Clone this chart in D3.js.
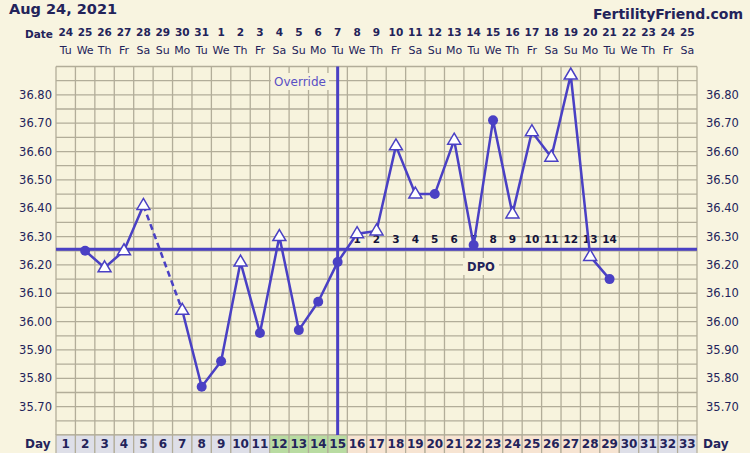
<!DOCTYPE html>
<html>
<head>
<meta charset="utf-8">
<script src="https://cdn.jsdelivr.net/npm/d3@7"></script>
<style>
  body { margin: 0; background: #f8f4e0; }
  svg { display: block; font-family: "DejaVu Sans", Verdana, sans-serif; }
</style>
</head>
<body>
<div id="main"></div>
<script>
// DATA
const days = d3.range(1, 34)
const dates = [24,25,26,27,28,29,30,31,1,2,3,4,5,6,7,8,9,10,11,12,13,14,15,16,17,18,19,20,21,22,23,24,25]
const weekdays = ["Tu","We","Th","Fr","Sa","Su","Mo"]
// temps per cycle day, null = no reading
const temps = [null,36.25,36.19,36.25,36.41,null,36.04,35.77,35.86,36.21,35.96,36.30,35.97,36.07,36.21,
               36.31,36.32,36.62,36.45,36.45,36.64,36.27,36.71,36.38,36.67,36.58,36.87,36.23,36.15]
// 't' = open triangle, 'c' = filled circle
const markers = [null,'c','t','t','t',null,'t','c','c','t','c','t','c','c','c',
                 't','t','t','t','c','t','c','c','t','t','t','t','t','c']
const yTicks = [35.70,35.80,35.90,36.00,36.10,36.20,36.30,36.40,36.50,36.60,36.70,36.80]
const coverline = 36.255
const ovulationDay = 15
const dpoLabels = d3.range(1, 15)

// COLORS
const navy = '#23235a'
const blue = '#4a40c4'
const gridCol = '#b2ad99'
const bg = '#f8f4e0'

let width = 750
let height = 453

let x = d3.scaleLinear().domain([0.5, 33.5]).range([56, 697])
let y = d3.scaleLinear().domain([35.60, 36.90]).range([435, 66.5])
let colW = x(2) - x(1)

let svg = d3.select("#main").append("svg")
    .attr("width", width)
    .attr("height", height)

svg.append("rect").attr("width", width).attr("height", height).attr("fill", bg)

// header
svg.append("text").attr("x", 9).attr("y", 14)
    .attr("font-size", 14.5).attr("font-weight", "bold").attr("fill", navy)
    .text("Aug 24, 2021")
svg.append("text").attr("x", 743).attr("y", 19).attr("text-anchor", "end")
    .attr("font-size", 14).attr("font-weight", "bold").attr("fill", navy)
    .text("FertilityFriend.com")
svg.append("text").attr("x", 25).attr("y", 38)
    .attr("font-size", 10.5).attr("font-weight", "bold").attr("fill", navy)
    .text("Date")

svg.selectAll("text.date").data(days).enter().append("text")
    .attr("class", "date")
    .attr("x", d => x(d)).attr("y", 36)
    .attr("text-anchor", "middle").attr("font-size", 10.5).attr("font-weight", "bold").attr("fill", navy)
    .text((d, i) => dates[i])
svg.selectAll("text.wd").data(days).enter().append("text")
    .attr("class", "wd")
    .attr("x", d => x(d)).attr("y", 54)
    .attr("text-anchor", "middle").attr("font-size", 11).attr("fill", navy)
    .text((d, i) => weekdays[i % 7])

// grid
let plot = svg.append("g")
plot.append("rect")
    .attr("x", x(0.5)).attr("y", y(36.90))
    .attr("width", x(33.5) - x(0.5)).attr("height", y(35.60) - y(36.90))
    .attr("fill", "#f7f3dd")
plot.selectAll("line.hg").data(d3.range(0, 27).map(i => 35.60 + i * 0.05)).enter().append("line")
    .attr("class", "hg")
    .attr("x1", x(0.5)).attr("x2", x(33.5))
    .attr("y1", d => y(d)).attr("y2", d => y(d))
    .attr("stroke", gridCol).attr("stroke-width", 1.3)
plot.selectAll("line.vg").data(d3.range(0, 34)).enter().append("line")
    .attr("class", "vg")
    .attr("x1", d => x(d + 0.5)).attr("x2", d => x(d + 0.5))
    .attr("y1", y(36.90)).attr("y2", y(35.60))
    .attr("stroke", gridCol).attr("stroke-width", 1.3)

// y axis labels both sides
svg.selectAll("text.yl").data(yTicks).enter().append("text")
    .attr("class", "yl")
    .attr("x", 52).attr("y", d => y(d) + 4)
    .attr("text-anchor", "end").attr("font-size", 11.5).attr("fill", navy)
    .text(d => d.toFixed(2))
svg.selectAll("text.yr").data(yTicks).enter().append("text")
    .attr("class", "yr")
    .attr("x", 706).attr("y", d => y(d) + 4)
    .attr("font-size", 11.5).attr("fill", navy)
    .text(d => d.toFixed(2))

// day row
function dayFill(d) {
    if (d >= 12 && d <= 15) return '#b9dca2'
    if (d >= 16 && d <= 29) return '#f7e4d2'
    return '#dedfe8'
}
svg.selectAll("rect.day").data(days).enter().append("rect")
    .attr("class", "day")
    .attr("x", d => x(d - 0.5)).attr("y", 435)
    .attr("width", colW).attr("height", 20)
    .attr("fill", dayFill).attr("stroke", gridCol).attr("stroke-width", 1.2)
svg.selectAll("text.dayn").data(days).enter().append("text")
    .attr("class", "dayn")
    .attr("x", d => x(d)).attr("y", 448)
    .attr("text-anchor", "middle").attr("font-size", 12).attr("font-weight", "bold").attr("fill", navy)
    .text(d => d)
svg.append("text").attr("x", 25).attr("y", 448)
    .attr("font-size", 12).attr("font-weight", "bold").attr("fill", navy).text("Day")
svg.append("text").attr("x", 703).attr("y", 448)
    .attr("font-size", 12).attr("font-weight", "bold").attr("fill", navy).text("Day")

// override label + ovulation line
let ov = svg.append("g")
ov.append("rect").attr("x", 271).attr("y", 73).attr("width", 58).attr("height", 17).attr("fill", "#f7f3dd")
ov.append("text").attr("x", 300).attr("y", 86).attr("text-anchor", "middle")
    .attr("font-size", 12).attr("fill", "#5a50c4").text("Override")
svg.append("line")
    .attr("x1", x(ovulationDay)).attr("x2", x(ovulationDay))
    .attr("y1", y(36.90)).attr("y2", y(35.60))
    .attr("stroke", blue).attr("stroke-width", 3)

// coverline
svg.append("line")
    .attr("x1", x(0.5)).attr("x2", x(33.5))
    .attr("y1", y(coverline)).attr("y2", y(coverline))
    .attr("stroke", blue).attr("stroke-width", 3)

// DPO label
svg.append("rect").attr("x", 463).attr("y", 258).attr("width", 36).attr("height", 17).attr("fill", "#f7f3dd")
svg.append("text").attr("x", 481).attr("y", 271).attr("text-anchor", "middle")
    .attr("font-size", 11.5).attr("font-weight", "bold").attr("fill", navy).text("DPO")

// DPO numbers
svg.selectAll("text.dpo").data(dpoLabels).enter().append("text")
    .attr("class", "dpo")
    .attr("x", d => x(ovulationDay + d)).attr("y", y(coverline) - 6)
    .attr("text-anchor", "middle").attr("font-size", 10.5).attr("font-weight", "bold").attr("fill", "#15153a")
    .text(d => d)

// temperature line
let pts = temps.map((t, i) => ({day: i + 1, t: t, m: markers[i]}))
let solid = []
let seg = []
pts.forEach(p => {
    if (p.t == null) { if (seg.length) solid.push(seg); seg = []; }
    else seg.push(p)
})
if (seg.length) solid.push(seg)

let line = d3.line().x(d => x(d.day)).y(d => y(d.t))
svg.selectAll("path.seg").data(solid).enter().append("path")
    .attr("class", "seg")
    .attr("d", line).attr("fill", "none")
    .attr("stroke", blue).attr("stroke-width", 2.5).attr("stroke-linejoin", "round")

// dashed gaps between segments
for (let i = 1; i < solid.length; i++) {
    let a = solid[i - 1][solid[i - 1].length - 1]
    let b = solid[i][0]
    svg.append("path").attr("d", line([a, b])).attr("fill", "none")
        .attr("stroke", blue).attr("stroke-width", 2.5).attr("stroke-dasharray", "6,4")
}

let valid = pts.filter(p => p.t != null)
svg.selectAll("circle.pt").data(valid.filter(p => p.m === 'c')).enter().append("circle")
    .attr("class", "pt")
    .attr("cx", d => x(d.day)).attr("cy", d => y(d.t)).attr("r", 5)
    .attr("fill", blue)
svg.selectAll("path.tri").data(valid.filter(p => p.m === 't')).enter().append("path")
    .attr("class", "tri")
    .attr("d", d => {
        let cx = x(d.day), cy = y(d.t)
        return `M${cx},${cy - 7}L${cx + 6.5},${cy + 4}L${cx - 6.5},${cy + 4}Z`
    })
    .attr("fill", "#ffffff").attr("stroke", blue).attr("stroke-width", 1.5)
</script>
</body>
</html>
